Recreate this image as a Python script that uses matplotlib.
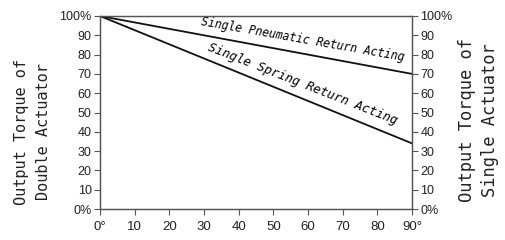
import matplotlib.pyplot as plt

# Data
angles = [0, 90]
pneumatic = [100, 70]
spring = [100, 34]
x_ticks = [0, 10, 20, 30, 40, 50, 60, 70, 80, 90]
x_labels = ['0°', '10', '20', '30', '40', '50', '60', '70', '80', '90°']
y_ticks = [0, 10, 20, 30, 40, 50, 60, 70, 80, 90, 100]
y_labels = ['0%', '10', '20', '30', '40', '50', '60', '70', '80', '90', '100%']

tick_font = ['Liberation Sans Narrow', 'Liberation Sans', 'DejaVu Sans']
mono_font = ['DejaVu Sans Mono']

fig = plt.figure(figsize=(5.05, 2.4), dpi=100)
ax = fig.add_axes([100 / 505, 31 / 240, 312 / 505, 193 / 240])

ax.plot(angles, pneumatic, color='#111111', lw=1.3)
ax.plot(angles, spring, color='#111111', lw=1.3)

ax.set_xlim(0, 90)
ax.set_ylim(0, 100)
ax.set_xticks(x_ticks)
ax.set_xticklabels(x_labels, fontsize=9.5, family=tick_font, color='#222222')
ax.set_yticks(y_ticks)
ax.set_yticklabels(y_labels, fontsize=9, family=tick_font, color='#222222')
ax.tick_params(axis='both', length=4, width=0.8, color='#555555', pad=2)
ax.tick_params(axis='x', pad=5)

ax2 = ax.twinx()
ax2.set_ylim(0, 100)
ax2.set_yticks(y_ticks)
ax2.set_yticklabels(y_labels, fontsize=9, family=tick_font, color='#222222')
ax2.tick_params(axis='y', length=4, width=0.8, color='#555555', pad=2)

for a in (ax, ax2):
    for s in a.spines.values():
        s.set_color('#555555')
        s.set_linewidth(0.9)

# Line annotations
ax.text(58.5, 88, 'Single Pneumatic Return Acting', rotation=-10,
        ha='center', va='center', fontsize=8.3, style='italic', family=mono_font)
ax.text(58.5, 64.5, 'Single Spring Return Acting', rotation=-21.5,
        ha='center', va='center', fontsize=9, style='italic', family=mono_font)

# Axis titles
fig.text(22 / 505, 0.45, 'Output Torque of', rotation=90, ha='center', va='center',
         fontsize=11, family=mono_font, color='#222222')
fig.text(44 / 505, 0.45, 'Double Actuator', rotation=90, ha='center', va='center',
         fontsize=11, family=mono_font, color='#222222')
fig.text(467 / 505, 0.5, 'Output Torque of', rotation=90, ha='center', va='center',
         fontsize=12.3, family=mono_font, color='#222222')
fig.text(490 / 505, 0.5, 'Single Actuator', rotation=90, ha='center', va='center',
         fontsize=12.3, family=mono_font, color='#222222')

fig.savefig('out.png', dpi=100)
